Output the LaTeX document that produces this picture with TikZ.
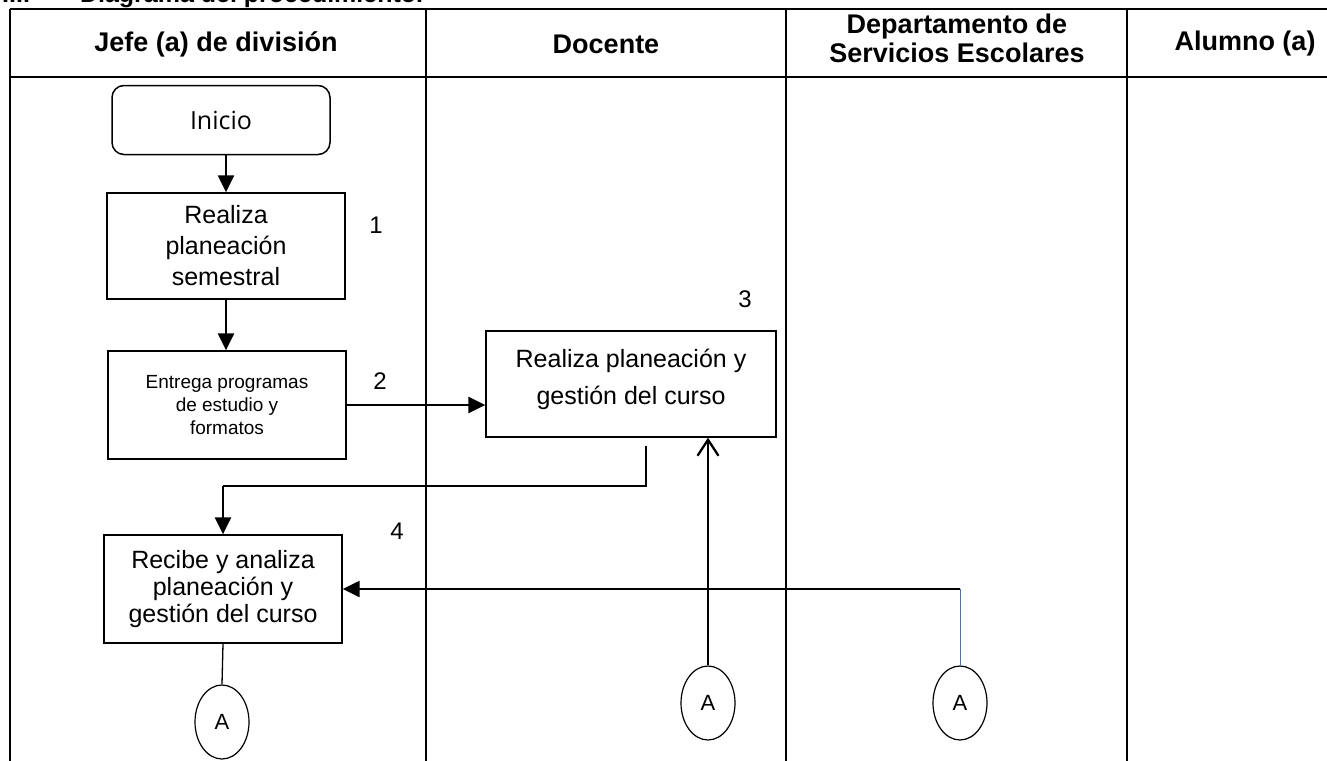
\documentclass[tikz,border=0pt]{standalone}
\usepackage{fontspec}
\setmainfont{Liberation Sans}
\newfontfamily\inifont{Open Sans}
\usetikzlibrary{arrows.meta,shapes.geometric,calc}
\definecolor{lineblue}{RGB}{68,114,196}
\begin{document}
\begin{tikzpicture}[x=1pt,y=-1pt,
  grid/.style={line width=2pt},
  hdr/.style={font=\bfseries\fontsize{27}{31}\selectfont, align=center, inner sep=0pt},
  procbox/.style={draw, line width=1.3pt, minimum width=238pt, minimum height=107pt, inner sep=0pt, align=center, font=\fontsize{25}{31}\selectfont},
  num/.style={font=\fontsize{24}{28}\selectfont, inner sep=0pt},
  conn/.style={draw, shape=ellipse, line width=1.2pt, minimum width=54pt, minimum height=74pt, inner sep=0pt, font=\fontsize{22}{26}\selectfont},
  arr/.style={line width=2.3pt, -{Triangle[length=17pt,width=16pt]}},
  openarr/.style={line width=2.3pt, -{Straight Barb[length=16pt,width=21pt]}},
  plain/.style={line width=1.6pt}
]
\useasboundingbox (0,0) rectangle (1327,760);
\clip (0,0) rectangle (1327,760);

% title (cut at the top, as in the reference)
\node[anchor=base west, inner sep=0pt, font=\bfseries\fontsize{25}{28}\selectfont] (title) at (2,3) {III.\hspace{50pt}Diagrama del procedimiento.};

% table
\draw[grid] (10,9) -- (1340,9);
\draw[grid] (10,77) -- (1340,77);
\draw[grid] (10,9) -- (10,770);
\draw[grid] (426,9) -- (426,770);
\draw[grid] (786,9) -- (786,770);
\draw[grid] (1127,9) -- (1127,770);

\node[hdr] (h1) at (216,44) {Jefe (a) de división};
\node[hdr] (h2) at (606,44) {Docente};
\node[hdr] (h3) at (957,38) {Departamento de\\[-2pt]Servicios Escolares};
\node[hdr] (h4) at (1245,44) {Alumno (a)};

% nodes
\node[draw, line width=1.5pt, rounded corners=12pt, minimum width=218pt, minimum height=69pt, inner sep=0pt, font=\inifont\fontsize{25}{28}\selectfont] (ini) at (221,120) {Inicio};
\node[procbox, minimum height=106pt] (b1) at (226,246) {Realiza\\planeación\\semestral};
\node[procbox, minimum height=108pt, font=\fontsize{19}{23}\selectfont] (b2) at (227,405) {Entrega programas\\de estudio y\\formatos};
\node[procbox, minimum width=290pt, minimum height=106pt] (b3) at (631,384) {};
\node[inner sep=0pt, align=center, font=\fontsize{25}{37}\selectfont] (t3) at (631,379) {Realiza planeación y\\gestión del curso};
\node[procbox, minimum height=108pt, font=\fontsize{25}{27}\selectfont] (b4) at (223,589) {Recibe y analiza\\planeación y\\gestión del curso};

\node[num] (n1) at (376,225) {1};
\node[num] (n2) at (380,381) {2};
\node[num] (n3) at (745,299) {3};
\node[num] (n4) at (397,531) {4};

\node[conn] (a1) at (222,722) {A};
\node[conn] (a2) at (708,703) {A};
\node[conn] (a3) at (960,703) {A};

% connectors
\draw[arr] (ini.south -| b1.north) -- (b1.north);
\draw[arr] (b1.south) -- (b1.south |- b2.north);
\draw[arr] (b2.east) -- (b3.west |- b2.east);
\coordinate (k) at (646,486);
\draw[plain] ($(b3.south)+(15,8)$) -- (k) -- (k -| b4.north);
\draw[arr] (k -| b4.north) -- (b4.north);
\draw[openarr] (a2.north) -- (a2.north |- b3.south);
\coordinate (m) at (a3.north |- b4.east);
\draw[line width=1pt, lineblue] (a3.north) -- (m);
\draw[arr] (m) -- (b4.east);
\draw[line width=1.3pt] (b4.south) -- (a1.north);
\end{tikzpicture}
\end{document}
